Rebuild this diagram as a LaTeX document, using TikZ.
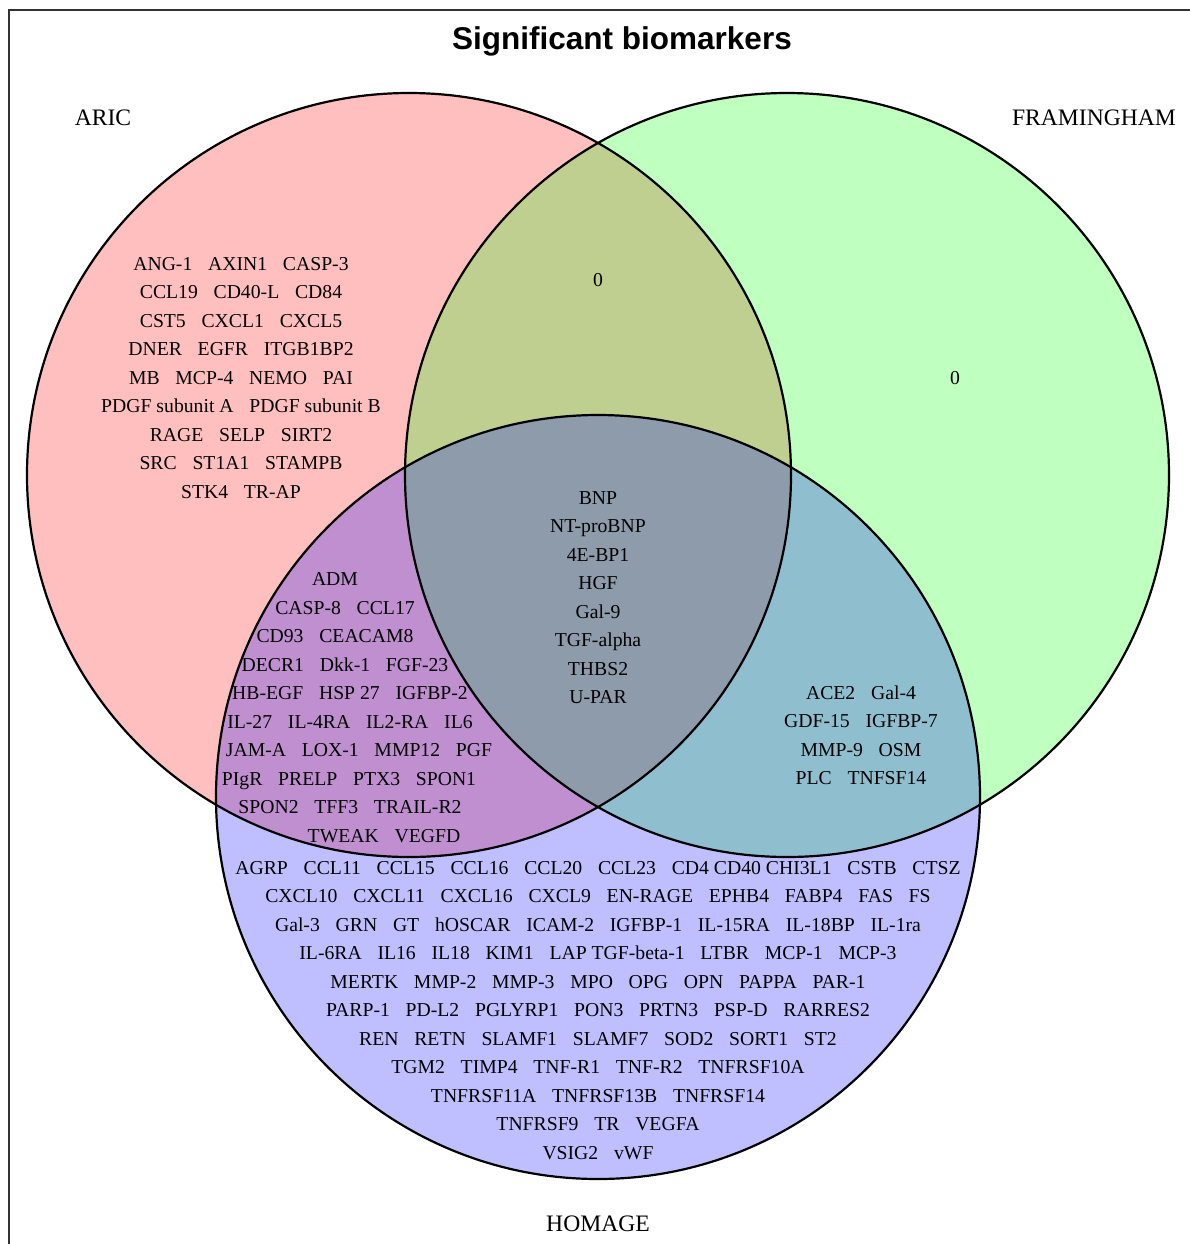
\documentclass[tikz,border=0pt]{standalone}
\usepackage{fontspec}
\setmainfont{Liberation Serif}
\newfontfamily\titlefont{Liberation Sans}
\usepackage{tikz}
\usetikzlibrary{positioning}
\newcommand{\bmgap}{\hspace{0.8em}}
\tikzstyle{title} = [font=\titlefont\bfseries\fontsize{15.75}{18}\selectfont, anchor=base]
\tikzstyle{settag} = [font=\fontsize{11.8}{14}\selectfont, anchor=base]
\tikzstyle{markers} = [font=\fontsize{9.85}{14.25}\selectfont, align=center, inner sep=0pt]
\tikzstyle{setline} = [draw=black, line width=1.1pt]

\begin{document}
\begin{tikzpicture}[x=0.5pt, y=-0.5pt]
\useasboundingbox (0,0) rectangle (1190,1244);

%% Frame %%
\draw[black!80, line width=1.3pt] (9,1244) |- (1190,10);
\node[title] (Title) at (622,49) {Significant biomarkers};

%% Sets %%
\coordinate (ARIC) at (409,475);
\coordinate (FRAMINGHAM) at (787,475);
\coordinate (HOMAGE) at (598,797);
\fill[red, fill opacity=0.25] (ARIC) circle (382);
\fill[green, fill opacity=0.25] (FRAMINGHAM) circle (382);
\fill[blue, fill opacity=0.25] (HOMAGE) circle (382);
\draw[setline] (ARIC) circle (382);
\draw[setline] (FRAMINGHAM) circle (382);
\draw[setline] (HOMAGE) circle (382);

%% Set names %%
\node[settag] (ARICtag) at (103,125) {ARIC};
\node[settag] (FRAMINGHAMtag) at (1094,125) {FRAMINGHAM};
\node[settag] (HOMAGEtag) at (598,1231) {HOMAGE};

%% Biomarkers %%
\node[markers] (ARIConly) at (241,378) {ANG-1\bmgap AXIN1\bmgap CASP-3\\
CCL19\bmgap CD40-L\bmgap CD84\\
CST5\bmgap CXCL1\bmgap CXCL5\\
DNER\bmgap EGFR\bmgap ITGB1BP2\\
MB\bmgap MCP-4\bmgap NEMO\bmgap PAI\\
PDGF subunit A\bmgap PDGF subunit B\\
RAGE\bmgap SELP\bmgap SIRT2\\
SRC\bmgap ST1A1\bmgap STAMPB\\
STK4\bmgap TR-AP};
\node[markers] (ARICFRAM) at (598,280) {0};
\node[markers] (FRAMonly) at (955,378) {0};
\node[markers] (AllSets) at (598,597.5) {BNP\\NT-proBNP\\4E-BP1\\HGF\\Gal-9\\TGF-alpha\\THBS2\\U-PAR};
\node[markers] (FRAMHOM) at (861,735) {ACE2\bmgap Gal-4\\
GDF-15\bmgap IGFBP-7\\
MMP-9\bmgap OSM\\
PLC\bmgap TNFSF14};
\foreach \cx/\txt [count=\i from 0] in {335/ADM,
  345/CASP-8\bmgap CCL17,
  335/CD93\bmgap CEACAM8,
  345/DECR1\bmgap Dkk-1\bmgap FGF-23,
  350/HB-EGF\bmgap HSP 27\bmgap IGFBP-2,
  350/IL-27\bmgap IL-4RA\bmgap IL2-RA\bmgap IL6,
  359/JAM-A\bmgap LOX-1\bmgap MMP12\bmgap PGF,
  349/PIgR\bmgap PRELP\bmgap PTX3\bmgap SPON1,
  350/SPON2\bmgap TFF3\bmgap TRAIL-R2,
  384/TWEAK\bmgap VEGFD}
  \node[markers, anchor=base] (ARICHOM\i) at (\cx,{585.5+28.5*\i}) {\txt};
\node[markers] (HOMAGEonly) at (598,1010.5) {AGRP\bmgap CCL11\bmgap CCL15\bmgap CCL16\bmgap CCL20\bmgap CCL23\bmgap CD4 CD40 CHI3L1\bmgap CSTB\bmgap CTSZ\\
CXCL10\bmgap CXCL11\bmgap CXCL16\bmgap CXCL9\bmgap EN-RAGE\bmgap EPHB4\bmgap FABP4\bmgap FAS\bmgap FS\\
Gal-3\bmgap GRN\bmgap GT\bmgap hOSCAR\bmgap ICAM-2\bmgap IGFBP-1\bmgap IL-15RA\bmgap IL-18BP\bmgap IL-1ra\\
IL-6RA\bmgap IL16\bmgap IL18\bmgap KIM1\bmgap LAP TGF-beta-1\bmgap LTBR\bmgap MCP-1\bmgap MCP-3\\
MERTK\bmgap MMP-2\bmgap MMP-3\bmgap MPO\bmgap OPG\bmgap OPN\bmgap PAPPA\bmgap PAR-1\\
PARP-1\bmgap PD-L2\bmgap PGLYRP1\bmgap PON3\bmgap PRTN3\bmgap PSP-D\bmgap RARRES2\\
REN\bmgap RETN\bmgap SLAMF1\bmgap SLAMF7\bmgap SOD2\bmgap SORT1\bmgap ST2\\
TGM2\bmgap TIMP4\bmgap TNF-R1\bmgap TNF-R2\bmgap TNFRSF10A\\
TNFRSF11A\bmgap TNFRSF13B\bmgap TNFRSF14\\
TNFRSF9\bmgap TR\bmgap VEGFA\\
VSIG2\bmgap vWF};

\end{tikzpicture}
\end{document}
